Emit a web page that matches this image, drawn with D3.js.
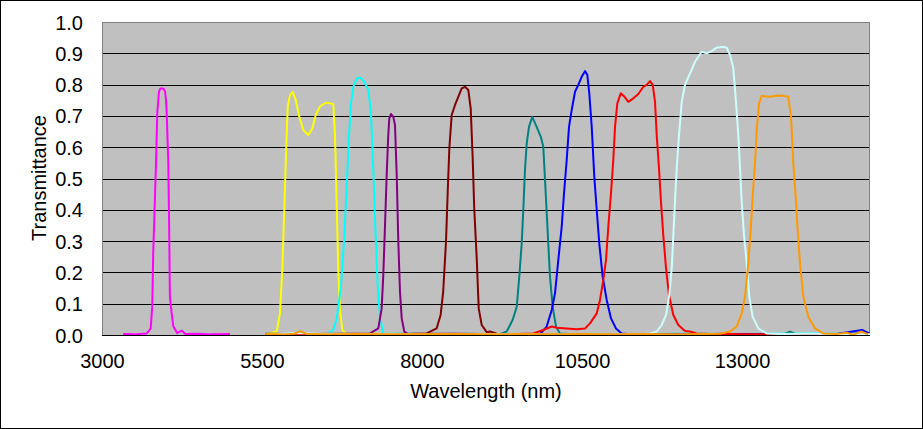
<!DOCTYPE html>
<html>
<head>
<meta charset="utf-8">
<script src="https://cdn.jsdelivr.net/npm/d3@7"></script>
<style>
  html, body { margin: 0; padding: 0; background: #fff; }
  svg { display: block; }
  text { font-family: "Liberation Sans", Arial, sans-serif; fill: #000; }
</style>
</head>
<body>
<svg id="chart" width="923" height="429"></svg>
<script>
// ---- data (wavelength nm, transmittance) ----
const xTicks = [3000, 5500, 8000, 10500, 13000];
const yTicks = [0, 0.1, 0.2, 0.3, 0.4, 0.5, 0.6, 0.7, 0.8, 0.9, 1.0];

const magenta = [[3330,0.003],[3500,0.002],[3700,0.005],[3760,0.02],[3785,0.09],[3800,0.26],[3823,0.41],[3844,0.55],[3864,0.71],[3890,0.777],[3910,0.787],[3935,0.788],[3965,0.786],[3985,0.778],[4000,0.75],[4011,0.71],[4036,0.55],[4050,0.335],[4061,0.122],[4089,0.069],[4114,0.027],[4177,0.006],[4245,0.014],[4300,0.003],[4500,0.004],[4700,0.002],[5000,0.003]];

const yellow = [[5560,0.003],[5730,0.011],[5780,0.069],[5817,0.208],[5848,0.40],[5875,0.58],[5902,0.73],[5938,0.767],[5980,0.777],[6027,0.751],[6083,0.697],[6145,0.655],[6223,0.639],[6286,0.66],[6339,0.703],[6406,0.73],[6495,0.742],[6563,0.74],[6614,0.738],[6641,0.634],[6667,0.42],[6692,0.208],[6719,0.08],[6755,0.016],[6823,0.003],[7200,0.004],[8000,0.002],[9000,0.003],[10000,0.002],[11000,0.003],[12000,0.002],[13000,0.003],[14000,0.002],[15000,0.003]];

const cyan = [[5560,0.002],[6000,0.004],[6300,0.002],[6511,0.003],[6614,0.016],[6667,0.053],[6734,0.154],[6786,0.314],[6823,0.474],[6859,0.634],[6891,0.74],[6927,0.793],[6980,0.82],[7031,0.823],[7098,0.809],[7161,0.783],[7203,0.708],[7239,0.527],[7277,0.314],[7308,0.154],[7344,0.058],[7395,0.005],[8000,0.003],[9000,0.002],[10000,0.003],[11000,0.002],[12000,0.004],[13000,0.003],[14000,0.005],[15000,0.003]];

const purple = [[5560,0.003],[6200,0.002],[6900,0.004],[7188,0.005],[7317,0.021],[7370,0.085],[7395,0.19],[7422,0.35],[7448,0.51],[7473,0.639],[7489,0.692],[7516,0.706],[7552,0.697],[7578,0.671],[7605,0.51],[7630,0.298],[7656,0.138],[7683,0.053],[7723,0.011],[7786,0.002],[8500,0.003],[9500,0.002],[10500,0.003],[11500,0.002],[12500,0.003],[13500,0.002],[15000,0.003]];

const maroon = [[5560,0.003],[6500,0.005],[7000,0.003],[7600,0.002],[8073,0.005],[8228,0.021],[8291,0.064],[8331,0.138],[8375,0.298],[8402,0.458],[8427,0.596],[8464,0.703],[8516,0.735],[8567,0.761],[8620,0.788],[8672,0.793],[8723,0.783],[8761,0.724],[8792,0.565],[8816,0.405],[8855,0.245],[8886,0.085],[8933,0.032],[9011,0.009],[9063,0.011],[9167,0.004],[9300,0.002],[10000,0.003],[11000,0.002],[12000,0.003],[13000,0.002],[14000,0.003],[15000,0.002]];

const teal = [[5560,0.002],[7000,0.003],[8500,0.002],[9219,0.003],[9323,0.011],[9416,0.048],[9480,0.09],[9520,0.186],[9558,0.293],[9583,0.40],[9609,0.527],[9636,0.612],[9672,0.665],[9723,0.697],[9792,0.665],[9855,0.634],[9895,0.602],[9933,0.453],[9973,0.293],[10000,0.186],[10042,0.09],[10094,0.027],[10156,0.005],[10300,0.003],[11500,0.002],[12500,0.003],[13650,0.002],[13750,0.011],[13850,0.002],[14500,0.003],[15000,0.006]];

const blue = [[5560,0.004],[6500,0.002],[7500,0.003],[8500,0.004],[9700,0.002],[9844,0.003],[9948,0.027],[10027,0.08],[10078,0.133],[10130,0.24],[10183,0.346],[10219,0.453],[10261,0.559],[10297,0.665],[10339,0.719],[10391,0.777],[10442,0.799],[10495,0.825],[10547,0.843],[10583,0.831],[10614,0.772],[10652,0.665],[10692,0.506],[10730,0.40],[10770,0.293],[10823,0.186],[10886,0.112],[10953,0.053],[11031,0.021],[11120,0.005],[11300,0.002],[12500,0.003],[13500,0.002],[14500,0.004],[14875,0.016],[15000,0.004]];

const red = [[5560,0.002],[7000,0.003],[8500,0.002],[9375,0.002],[9739,0.005],[9895,0.016],[10027,0.027],[10105,0.023],[10261,0.021],[10417,0.018],[10547,0.021],[10625,0.037],[10730,0.069],[10781,0.112],[10833,0.176],[10875,0.24],[10911,0.346],[10953,0.453],[10989,0.559],[11016,0.665],[11052,0.74],[11105,0.772],[11156,0.763],[11224,0.745],[11302,0.756],[11380,0.77],[11458,0.793],[11511,0.799],[11563,0.811],[11605,0.799],[11641,0.745],[11667,0.639],[11703,0.533],[11734,0.426],[11770,0.319],[11813,0.213],[11859,0.128],[11927,0.064],[12005,0.032],[12109,0.013],[12188,0.011],[12292,0.005],[12500,0.003],[12700,0.004],[13000,0.002],[14000,0.003],[15000,0.002]];

const lightCyan = [[5560,0.002],[6000,0.006],[7000,0.003],[8000,0.002],[9000,0.003],[10000,0.002],[11400,0.002],[11563,0.005],[11667,0.011],[11745,0.032],[11813,0.064],[11864,0.128],[11902,0.213],[11927,0.319],[11953,0.426],[11980,0.533],[12016,0.639],[12058,0.745],[12109,0.799],[12188,0.836],[12266,0.873],[12370,0.905],[12448,0.90],[12527,0.907],[12605,0.918],[12708,0.921],[12761,0.918],[12813,0.895],[12864,0.852],[12906,0.745],[12942,0.639],[12969,0.533],[12995,0.426],[13031,0.32],[13073,0.229],[13114,0.122],[13167,0.058],[13255,0.021],[13386,0.005],[13600,0.003],[14000,0.004],[15000,0.002]];

const orange = [[5560,0.003],[5800,0.002],[6000,0.004],[6100,0.012],[6200,0.003],[6500,0.002],[7000,0.003],[7500,0.002],[8000,0.003],[8500,0.004],[9000,0.002],[9500,0.003],[10000,0.002],[10500,0.003],[11000,0.002],[11500,0.003],[12000,0.002],[12400,0.003],[12656,0.004],[12813,0.011],[12917,0.027],[12995,0.069],[13047,0.122],[13098,0.229],[13136,0.335],[13167,0.442],[13203,0.549],[13230,0.655],[13266,0.74],[13308,0.764],[13438,0.761],[13567,0.765],[13645,0.764],[13723,0.761],[13766,0.697],[13802,0.549],[13839,0.442],[13870,0.335],[13906,0.229],[13958,0.122],[14036,0.058],[14141,0.021],[14270,0.005],[14480,0.003],[14636,0.007],[14739,0.001],[14870,0.011],[14970,0.002]];

const seriesData = [magenta, yellow, cyan, purple, maroon, teal, blue, red, lightCyan, orange];
const seriesColors = ["#FF00FF", "#FFFF00", "#00FFFF", "#800080", "#800000", "#008080", "#0000FF", "#FF0000", "#CCFFFF", "#FF9900"];

// ---- chart ----
const svg = d3.select("#chart");
const W = 923, H = 429;
const plot = { left: 102, right: 870, top: 22, bottom: 335 };

svg.append("rect").attr("x", 0.5).attr("y", 0.5).attr("width", W - 1).attr("height", H - 1)
  .attr("fill", "#fff").attr("stroke", "#000").attr("stroke-width", 1);

const x = d3.scaleLinear().domain([3000, 15000]).range([plot.left, plot.right]);
const y = d3.scaleLinear().domain([0, 1]).range([plot.bottom, plot.top]);

svg.append("rect").attr("x", plot.left).attr("y", plot.top)
  .attr("width", plot.right - plot.left).attr("height", plot.bottom - plot.top)
  .attr("fill", "#C0C0C0");

// gridlines
svg.append("g").selectAll("line").data(yTicks.filter(t => t > 0 && t < 1)).join("line")
  .attr("x1", plot.left).attr("x2", plot.right)
  .attr("y1", d => Math.round(y(d)) + 0.5).attr("y2", d => Math.round(y(d)) + 0.5)
  .attr("stroke", "#000").attr("stroke-width", 1);

// border
svg.append("rect").attr("x", plot.left + 0.5).attr("y", plot.top + 0.5)
  .attr("width", plot.right - plot.left - 1).attr("height", plot.bottom - plot.top)
  .attr("fill", "none").attr("stroke", "#808080").attr("stroke-width", 1);

// series
const clipId = "plotclip";
svg.append("clipPath").attr("id", clipId).append("rect")
  .attr("x", plot.left).attr("y", plot.top - 5)
  .attr("width", plot.right - plot.left).attr("height", plot.bottom - plot.top + 6);

const line = d3.line().x(d => x(d[0])).y(d => y(d[1]));
svg.append("g").attr("clip-path", `url(#${clipId})`)
  .selectAll("path").data(seriesData).join("path")
  .attr("d", line)
  .attr("fill", "none")
  .attr("stroke", (d, i) => seriesColors[i])
  .attr("stroke-width", 2)
  .attr("stroke-linejoin", "round");

// axis line bottom
svg.append("line").attr("x1", plot.left).attr("x2", plot.right)
  .attr("y1", plot.bottom + 0.5).attr("y2", plot.bottom + 0.5)
  .attr("stroke", "#000").attr("stroke-width", 1);

// axes via d3
const xAxis = d3.axisBottom(x).tickValues(xTicks).tickSize(0).tickPadding(0).tickFormat(d3.format("d"));
const gx = svg.append("g").attr("transform", `translate(0, 368)`).call(xAxis);
gx.select(".domain").remove();
gx.selectAll("text").attr("dy", 0).attr("y", 0)
  .style("font-family", "'Liberation Sans', Arial, sans-serif").style("font-size", "20px").attr("fill", "#000");

const yAxis = d3.axisLeft(y).tickValues(yTicks).tickSize(0).tickPadding(0).tickFormat(d3.format(".1f"));
const gy = svg.append("g").attr("transform", `translate(83, 0)`).call(yAxis);
gy.select(".domain").remove();
gy.selectAll("text").attr("x", 0).attr("dy", "0.35em")
  .style("font-family", "'Liberation Sans', Arial, sans-serif").style("font-size", "20px").attr("fill", "#000");

// axis titles
svg.append("text").attr("x", 486).attr("y", 398).attr("text-anchor", "middle")
  .style("font-size", "20px").text("Wavelength (nm)");
svg.append("text").attr("transform", "translate(46, 178) rotate(-90)").attr("text-anchor", "middle")
  .style("font-size", "20px").text("Transmittance");
</script>
</body>
</html>
